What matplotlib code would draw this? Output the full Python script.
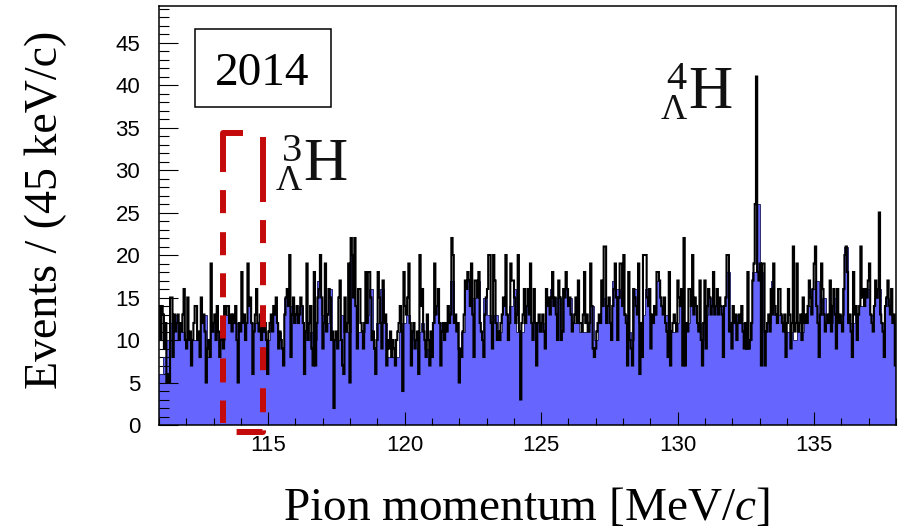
import numpy as np
import matplotlib
matplotlib.use('Agg')
import matplotlib.pyplot as plt
from matplotlib.ticker import MultipleLocator
from matplotlib.patches import Rectangle

plt.rcParams['font.family'] = ['Liberation Sans', 'DejaVu Sans']
plt.rcParams['lines.scale_dashes'] = False
plt.rcParams['mathtext.fontset'] = 'custom'
plt.rcParams['mathtext.rm'] = 'Liberation Serif'
plt.rcParams['mathtext.it'] = 'Liberation Serif:italic'

# ---------------- data ----------------
p_min, p_max = 111.0, 138.0          # MeV/c
bin_width = 0.045                    # 45 keV/c
smooth_bin_width = 0.135

events = [
    14,10,14,13,9,12,5,6,5,15,15,8,13,11,12,13,10,12,11,13,
    16,10,9,15,10,11,7,10,12,14,14,10,11,8,15,12,13,11,5,9,
    10,8,19,11,12,13,10,14,11,8,10,12,9,14,13,14,14,12,13,11,
    13,12,14,10,5,12,11,18,12,13,10,12,19,14,15,12,6,11,13,16,
    12,11,13,10,12,11,12,10,6,11,12,13,11,14,13,15,12,9,11,10,
    9,7,13,15,16,14,20,8,13,15,12,13,14,12,13,15,14,12,6,11,
    19,10,12,14,9,7,18,7,12,15,16,20,15,9,12,19,11,13,16,15,
    10,11,2,10,11,9,15,17,10,7,6,15,11,12,19,5,22,20,15,22,
    14,9,16,16,12,11,9,12,18,12,18,18,15,10,11,9,6,10,18,15,
    12,9,17,12,13,7,10,9,11,8,10,9,7,10,11,12,14,11,4,18,
    14,13,15,19,12,7,11,12,9,10,11,6,20,14,16,11,10,8,13,10,
    7,11,8,12,19,13,14,16,12,7,11,12,10,12,11,14,12,13,22,20,
    12,13,11,12,5,9,8,11,13,17,16,18,17,14,19,13,8,17,17,15,
    18,12,11,10,8,13,15,16,20,20,12,9,20,17,12,10,11,10,12,13,
    15,14,20,13,10,12,19,17,17,15,12,13,20,11,3,12,13,16,12,14,
    16,13,19,12,10,16,12,7,12,13,11,12,13,11,9,16,14,15,13,15,
    18,14,15,13,10,17,15,10,11,16,15,18,16,14,15,13,11,12,13,15,
    12,17,12,12,11,13,18,12,13,11,12,19,14,9,8,9,11,12,13,12,
    17,14,21,21,12,14,15,12,10,14,16,19,15,10,15,19,19,14,20,13,
    12,7,18,10,9,7,16,15,14,13,19,6,12,8,20,20,20,15,14,16,
    9,13,12,14,13,18,18,17,15,14,13,15,12,11,8,18,7,11,12,13,
    12,11,17,15,14,16,7,22,7,12,11,16,16,14,20,13,15,14,12,11,
    17,10,7,12,17,9,14,16,15,13,14,18,13,14,16,13,15,14,13,8,
    14,15,20,20,11,12,9,14,12,13,10,12,13,12,14,11,9,12,9,18,
    9,10,12,17,19,26,41,18,17,19,7,19,19,7,11,12,13,11,16,13,
    19,14,13,12,16,16,13,12,11,13,8,12,16,13,9,12,21,11,12,19,
    11,12,13,10,15,12,13,12,14,17,15,13,16,19,21,14,12,8,13,19,
    16,13,11,12,13,12,17,11,14,16,13,9,16,12,13,12,11,16,20,21,
    18,12,13,11,8,18,13,14,10,13,14,21,15,16,14,16,15,17,19,13,
    12,11,14,17,15,16,25,13,12,11,8,14,15,17,14,13,16,12,13,7,
]

smoothed = [
    6,8,10,12,13,12,11,10,10,10,10,12,13,8,11,12,11,10,13,13,
    13,12,12,12,15,12,12,12,11,10,12,13,11,9,15,14,13,13,14,11,
    10,11,10,17,13,12,16,10,10,13,11,11,20,14,11,11,13,16,9,12,
    16,12,8,8,8,11,12,13,11,10,11,12,9,9,12,14,12,11,12,17,
    12,9,11,17,16,15,17,11,15,13,12,13,11,15,13,14,16,11,11,14,
    14,12,12,11,12,15,16,15,15,11,16,15,12,12,11,11,11,14,10,12,
    15,14,12,17,16,15,13,11,10,16,12,13,16,13,13,17,14,13,11,11,
    12,15,12,12,15,14,12,10,13,15,14,14,14,14,18,12,13,12,12,9,
    10,18,26,18,11,12,17,13,13,12,11,11,10,11,11,12,14,16,17,13,
    15,12,12,15,12,13,21,12,12,13,14,16,16,13,15,16,12,15,14,12,
]

x_ticks = [115, 120, 125, 130, 135]
y_ticks = [0, 5, 10, 15, 20, 25, 30, 35, 40, 45]
y_max = 49.3
h3_window = (113.34, 114.81)   # dashed selection window (MeV/c)

# ---------------- figure ----------------
W, H = 902, 529
fig = plt.figure(figsize=(W / 100, H / 100), dpi=100)
ax = fig.add_axes([159 / W, 104 / H, 737 / W, 419 / H])

def fpx(x, y):
    return (x / W, 1 - y / H)

edges = p_min + bin_width * np.arange(len(events) + 1)
sedges = p_min + smooth_bin_width * np.arange(len(smoothed) + 1)

ax.stairs(smoothed, sedges, fill=True, color='#6666ff', lw=0, zorder=1)
ax.stairs(smoothed, sedges, color='#2b2b70', lw=0.7, baseline=None, zorder=2)
ax.stairs(events, edges, color='black', lw=1.5, baseline=None, zorder=3)

ax.set_xlim(p_min, p_max)
ax.set_ylim(0, y_max)
ax.set_xticks(x_ticks)
ax.set_yticks(y_ticks)
ax.xaxis.set_minor_locator(MultipleLocator(1))
ax.yaxis.set_minor_locator(MultipleLocator(1))
ax.tick_params(axis='both', which='both', direction='in', top=False, right=False,
               width=0.8, labelsize=16, colors='black')
ax.tick_params(axis='x', which='major', length=9.4, pad=7.5)
ax.tick_params(axis='x', which='minor', length=5)
ax.tick_params(axis='y', which='major', length=13.7, pad=13.5)
ax.tick_params(axis='y', which='minor', length=7.2)
for s in ax.spines.values():
    s.set_linewidth(1.1)

# red dashed selection window
red = '#c40a0a'
mid = 0.5 * (h3_window[0] + h3_window[1])
ax.plot([mid, h3_window[0], h3_window[0]], [34.35, 34.35, 0.2], color=red, lw=4.3,
        dashes=[42.5, 13, 16.6, 13.7, 16.6, 13, 17.3, 13, 16.6, 14.4, 17.3, 13, 16.6, 300],
        dash_joinstyle='round', dash_capstyle='butt', clip_on=False, zorder=5)
ax.plot([h3_window[1], h3_window[1], h3_window[0]], [33.9, -0.8, -0.8], color=red, lw=4.3,
        dashes=[46.8, 13, 16.6, 13.7, 16.6, 14.4, 15.8, 14.4, 16.6, 13, 17.3, 13, 20.2, 300],
        dash_joinstyle='round', dash_capstyle='butt', clip_on=False, zorder=5)

serif = 'Liberation Serif'

# year box
fig.add_artist(Rectangle(fpx(195, 107), 136 / W, 78 / H, transform=fig.transFigure,
                         fill=False, edgecolor='black', lw=1.1))
fig.text(*fpx(262, 85), '2014', ha='center', va='baseline', fontsize=34, family=serif)

# hypernucleus labels
fig.text(*fpx(303, 180), 'H', ha='left', va='baseline', fontsize=44, family=serif, color='#111111')
fig.text(*fpx(282, 161), '3', ha='left', va='baseline', fontsize=29, family=serif, color='#111111')
fig.text(*fpx(276, 190), 'Λ', ha='left', va='baseline', fontsize=26, family=serif, color='#111111')

fig.text(*fpx(688, 108), 'H', ha='left', va='baseline', fontsize=44, family=serif, color='#111111')
fig.text(*fpx(666, 89), '4', ha='left', va='baseline', fontsize=29, family=serif, color='#111111')
fig.text(*fpx(661, 119), 'Λ', ha='left', va='baseline', fontsize=26, family=serif, color='#111111')

# axis titles
fig.text(*fpx(46, 210), 'Events / (45 keV/c)', rotation=90, ha='center', va='center',
         fontsize=33, family=serif)
fig.text(*fpx(526, 520), 'Pion momentum [MeV/$c$]', ha='center', va='baseline',
         fontsize=34, family=serif)

fig.savefig('out.png', dpi=100)
